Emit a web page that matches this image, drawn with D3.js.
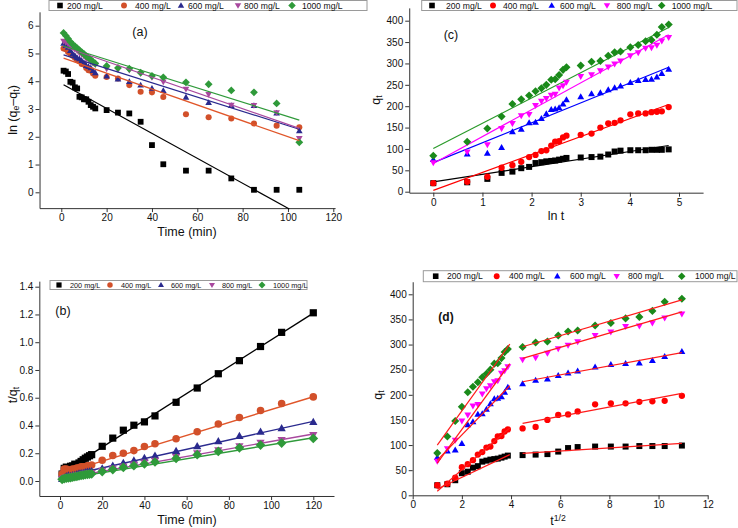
<!doctype html>
<html>
  <head>
    <meta charset="utf-8">
    <title>Adsorption kinetics</title>
    <style>
      body { margin: 0; background: #fff; }
      svg text { font-family: "Liberation Sans", Arial, sans-serif; fill: #111; }
      .axis path, .axis line { stroke: #333; }
      .axis text { font-size: 10px; fill: #111; }
    </style>
    <script src="https://cdnjs.cloudflare.com/ajax/libs/d3/7.8.5/d3.min.js"></script>
  </head>
  <body>
    <div id="chart"></div>
    <script>
      // ---- data ----
      const seriesNames = ["200 mg/L", "400 mg/L", "600 mg/L", "800 mg/L", "1000 mg/L"];

      const timeMin = [1,2,3,4,5,6,7,8,9,10,11,12,13,14,15,20,25,30,35,40,45,55,65,75,85,95,105,120];
      const lnT = [0,0.69,1.10,1.39,1.61,1.79,1.95,2.08,2.20,2.30,2.40,2.48,2.56,2.64,2.71,3.00,3.22,3.40,3.56,3.69,3.81,4.01,4.17,4.32,4.44,4.55,4.65,4.79];
      const sqrtT = [1,1.41,1.73,2,2.24,2.45,2.65,2.83,3,3.16,3.32,3.46,3.61,3.74,3.87,4.47,5,5.48,5.92,6.32,6.71,7.42,8.06,8.66,9.22,9.75,10.25,10.95];

      // q_t (panels c and d)
      const qt200  = [20,22,30,44,47,55,58,67,69,71,72,73,75,77,79,80,81,82,87,94,96,97,97,97,98,98,98,99];
      const qt400  = [20,23,35,56,62,70,81,86,95,97,108,117,118,127,131,133,136,150,160,161,167,181,183,183,186,187,188,198];
      const qt600  = [75,88,90,103,140,146,161,162,171,182,192,193,196,205,215,222,229,231,238,243,247,255,260,262,263,268,276,286];
      const qt800  = [68,93,110,148,160,178,181,202,212,218,226,228,243,248,256,270,274,283,292,299,306,318,325,336,337,343,353,361];
      const qt1000 = [84,117,148,176,205,216,225,235,242,250,262,263,273,285,291,295,304,306,318,326,328,338,343,352,355,367,385,391];

      // panel a: ln(qe - qt)
      const timeA = [1,2,3,4,5,6,7,8,9,10,11,12,13,14,15,20,25,30,35,40,45,55,65,75,85,95,105];
      const lnA200  = [4.38,4.35,4.26,3.98,3.95,3.78,3.74,3.44,3.42,3.35,3.35,3.26,3.14,3.08,3.02,2.96,2.87,2.84,2.54,1.70,1.01,0.78,0.78,0.50,0.09,0.09,0.09];
      const lnA400  = [5.18,5.15,5.05,5.00,4.92,4.85,4.76,4.72,4.62,4.60,4.48,4.40,4.38,4.28,4.20,4.15,4.10,3.86,3.62,3.60,3.43,2.81,2.70,2.66,2.48,2.40,2.34];
      const lnA600  = [5.36,5.28,5.22,5.10,4.98,4.92,4.84,4.80,4.74,4.66,4.56,4.52,4.48,4.38,4.30,4.18,4.07,3.98,3.86,3.74,3.66,3.42,3.23,3.12,3.12,2.85,2.21];
      const lnA800  = [5.45,5.40,5.35,5.28,5.22,5.15,5.10,5.02,4.96,4.90,4.82,4.78,4.70,4.65,4.60,4.45,4.42,4.40,4.28,4.14,3.98,3.72,3.53,3.14,3.13,2.87,1.94];
      const lnA1000 = [5.74,5.64,5.53,5.42,5.33,5.26,5.19,5.12,5.05,4.98,4.90,4.85,4.78,4.70,4.64,4.55,4.48,4.45,4.31,4.19,4.14,3.96,3.89,3.67,3.60,3.20,1.80];

      // panel b: t/qt
      const tq200  = [0.050,0.091,0.100,0.091,0.106,0.109,0.121,0.119,0.130,0.141,0.153,0.164,0.173,0.182,0.190,0.250,0.309,0.366,0.402,0.426,0.469,0.567,0.670,0.773,0.867,0.969,1.071,1.212];
      const tq400  = [0.050,0.087,0.086,0.071,0.081,0.086,0.086,0.093,0.095,0.103,0.102,0.103,0.110,0.110,0.115,0.150,0.184,0.200,0.219,0.248,0.269,0.304,0.355,0.410,0.457,0.508,0.559,0.606];
      const tq600  = [0.013,0.023,0.033,0.039,0.036,0.041,0.043,0.049,0.053,0.055,0.057,0.062,0.066,0.068,0.070,0.090,0.109,0.130,0.147,0.165,0.182,0.216,0.250,0.286,0.323,0.354,0.380,0.425];
      const tq800  = [0.015,0.022,0.027,0.027,0.031,0.034,0.039,0.040,0.042,0.046,0.049,0.053,0.053,0.056,0.059,0.074,0.091,0.106,0.120,0.134,0.147,0.173,0.200,0.223,0.252,0.277,0.297,0.332];
      const tq1000 = [0.012,0.017,0.020,0.023,0.024,0.028,0.031,0.034,0.037,0.040,0.042,0.046,0.048,0.049,0.052,0.068,0.082,0.098,0.110,0.123,0.137,0.163,0.190,0.213,0.239,0.259,0.273,0.307];

      // fitted lines [x1, y1, x2, y2]
      const fitA = [[1,3.87,100.6,-0.6],[1,4.83,105,1.86],[1,4.95,105,2.27],[1,5.25,105,2.30],[1,5.27,105,2.60]];
      const fitB = [[1,0.060,120,1.21],[1,0.055,120,0.607],[1,0.031,120,0.43],[1,0.018,120,0.339],[1,0.012,120,0.312]];
      const fitC = [[0,23,4.79,108],[0,3,4.79,204],[0,68,4.79,291],[0,66,4.79,367],[0,101,4.79,384]];
      const fitD1 = [[1,12.5,3.95,81],[1,8,3.95,134],[1,70,3.95,218],[1,64,3.95,262],[1,100,3.95,301]];
      const fitD2 = [[4.47,83.5,10.95,103.5],[4.47,143,10.95,203],[4.47,226,10.95,284],[4.47,272.6,10.95,365],[4.47,295.7,10.95,389]];

      const shapes = ["square", "circle", "up", "down", "diamond"];
      const coloursAB = ["#000000", "#d2502a", "#2a2a8e", "#a8489e", "#2f9a3a"];
      const coloursCD = ["#000000", "#ff0000", "#0000ff", "#ff00ff", "#1a8a1a"];

      // ---- drawing ----
      const svg = d3.select("#chart").append("svg")
        .attr("width", 738).attr("height", 528);
      svg.append("rect").attr("width", 738).attr("height", 528).attr("fill", "#fff");

      // linear scale anchored at two tick positions, with a given domain
      function lin(v1, p1, v2, p2, d0, d1) {
        const k = (p2 - p1) / (v2 - v1);
        return d3.scaleLinear().domain([d0, d1]).range([p1 + (d0 - v1) * k, p1 + (d1 - v1) * k]);
      }

      function markerPath(kind, s) {
        switch (kind) {
          case "square": return `M${-s},${-s}H${s}V${s}H${-s}Z`;
          case "circle": return d3.symbol(d3.symbolCircle, Math.PI * s * s * 1.1)();
          case "up": return `M0,${-s * 1.2}L${s * 1.15},${s * 0.8}L${-s * 1.15},${s * 0.8}Z`;
          case "down": return `M0,${s * 1.2}L${s * 1.15},${-s * 0.8}L${-s * 1.15},${-s * 0.8}Z`;
          case "diamond": return `M0,${-s * 1.35}L${s * 1.35},0L0,${s * 1.35}L${-s * 1.35},0Z`;
        }
      }

      function drawAxes(x, y, xMajor, xMinor, yMajor, yMinor, xFmt, yFmt) {
        const y0 = y.range()[0], x0 = x.range()[0];
        const gx = svg.append("g").attr("class", "axis").attr("transform", `translate(0,${y0})`);
        gx.call(d3.axisBottom(x).tickValues(xMinor).tickSize(2).tickFormat(""))
          .select(".domain").remove();
        gx.call(d3.axisBottom(x).tickValues(xMajor).tickSize(4).tickSizeOuter(0).tickPadding(2).tickFormat(xFmt));
        const gy = svg.append("g").attr("class", "axis").attr("transform", `translate(${x0},0)`);
        gy.call(d3.axisLeft(y).tickValues(yMinor).tickSize(2).tickFormat(""))
          .select(".domain").remove();
        gy.call(d3.axisLeft(y).tickValues(yMajor).tickSize(4).tickSizeOuter(0).tickPadding(2).tickFormat(yFmt));
      }

      function drawPoints(x, y, xs, ys, kind, colour, s) {
        svg.append("g").selectAll("path").data(ys).join("path")
          .attr("d", markerPath(kind, s))
          .attr("transform", (d, i) => `translate(${x(xs[i])},${y(d)})`)
          .attr("fill", colour);
      }

      function drawFit(x, y, f, colour, w) {
        svg.append("line")
          .attr("x1", x(f[0])).attr("y1", y(f[1]))
          .attr("x2", x(f[2])).attr("y2", y(f[3]))
          .attr("stroke", colour).attr("stroke-width", w || 1.2);
      }

      function legend(x0, x1, y0, y1, marks, texts, fs, ms, colours) {
        svg.append("rect").attr("x", x0).attr("y", y0)
          .attr("width", x1 - x0).attr("height", y1 - y0)
          .attr("fill", "#fff").attr("stroke", "#9a9a9a").attr("stroke-width", 1);
        const cy = (y0 + y1) / 2;
        seriesNames.forEach((name, i) => {
          svg.append("path").attr("d", markerPath(shapes[i], ms))
            .attr("transform", `translate(${marks[i]},${cy})`).attr("fill", colours[i]);
          svg.append("text").attr("x", texts[i]).attr("y", cy + fs * 0.36)
            .attr("font-size", fs).text(name);
        });
      }

      function label(xp, yp, parts, opts) {
        const t = svg.append("text").attr("font-size", opts.size || 12.5)
          .attr("text-anchor", "middle");
        if (opts.rotate) t.attr("transform", `translate(${xp},${yp}) rotate(-90)`);
        else t.attr("x", xp).attr("y", yp);
        if (opts.bold) t.attr("font-weight", "bold");
        parts.forEach(p => {
          const ts = t.append("tspan").text(p[0]);
          if (p[1] === "sub") ts.attr("font-size", "70%").attr("baseline-shift", "-25%");
          if (p[1] === "sup") ts.attr("font-size", "70%").attr("baseline-shift", "45%");
        });
        return t;
      }

      // ---- panel (a) ----
      const xA = lin(0, 61.3, 120, 333.3, -9.6, 120.8);
      const yA = lin(0, 192.3, 6, 25.7, -0.57, 6.5);
      drawAxes(xA, yA, d3.range(0, 121, 20), d3.range(-10, 121, 10),
        d3.range(0, 7, 1), d3.range(-0.5, 6.51, 0.5), d3.format("d"), d3.format("d"));
      const lnA = [lnA200, lnA400, lnA600, lnA800, lnA1000];
      lnA.forEach((ys, i) => drawPoints(xA, yA, timeA, ys, shapes[i], coloursAB[i], 2.9));
      fitA.forEach((f, i) => drawFit(xA, yA, f, i === 4 ? "#2f9a3a" : (i === 1 ? "#e0562a" : coloursAB[i]), 1.2));
      legend(49, 367, 0.5, 10.5, [60, 124, 181, 238, 292], [67, 135, 188, 244, 302], 8.6, 2.8, coloursAB);
      label(140, 36, [["(a)"]], {size: 12.5});
      label(187, 236, [["Time (min)"]], {});
      label(17, 110, [["ln (q"], ["e", "sub"], ["\u2013q"], ["t", "sub"], [")"]], {rotate: true});

      // ---- panel (b) ----
      const xB = lin(0, 60, 120, 313.3, -9.8, 129.8);
      const yB = lin(0, 481, 1.4, 286.7, -0.108, 1.44);
      drawAxes(xB, yB, d3.range(0, 121, 20), d3.range(-10, 131, 10),
        d3.range(0, 1.41, 0.2), d3.range(-0.1, 1.41, 0.1), d3.format("d"), d3.format(".1f"));
      const tqB = [tq200, tq400, tq600, tq800, tq1000];
      fitB.forEach((f, i) => drawFit(xB, yB, f, i === 1 ? "#e0562a" : coloursAB[i], 1.4));
      tqB.forEach((ys, i) => drawPoints(xB, yB, timeMin, ys, shapes[i], coloursAB[i], 3.6));
      legend(50, 307, 280.5, 289.5, [59, 110, 161, 212, 262], [70, 121, 171, 222, 273], 7.3, 2.6, coloursAB);
      label(63, 315, [["(b)"]], {size: 12.5});
      label(187, 523.5, [["Time (min)"]], {});
      label(17, 395, [["t/q"], ["t", "sub"]], {rotate: true});

      // ---- panel (c) ----
      const xC = lin(0, 433.3, 5, 679, -0.49, 5.49);
      const yC = lin(0, 191.7, 400, 20.7, -2.3, 430);
      drawAxes(xC, yC, d3.range(0, 5.01, 1), d3.range(-0.5, 5.51, 0.5),
        d3.range(0, 401, 50), d3.range(0, 426, 25), d3.format("d"), d3.format("d"));
      const qtAll = [qt200, qt400, qt600, qt800, qt1000];
      fitC.forEach((f, i) => drawFit(xC, yC, f, i === 4 ? "#2a9a2a" : coloursCD[i], 1.2));
      qtAll.forEach((ys, i) => drawPoints(xC, yC, lnT, ys, shapes[i], coloursCD[i], 3));
      legend(421.7, 737, 0.5, 10.5, [432, 493, 551.7, 607, 661.7], [446, 503, 560, 616.7, 671.7], 8.6, 2.8, coloursCD);
      label(451, 39, [["(c)"]], {size: 12.5});
      label(556, 220, [["ln t"]], {});
      label(380, 100, [["q"], ["t", "sub"]], {rotate: true});

      // ---- panel (d) ----
      const xD = lin(0, 412.7, 12, 707.7, 0, 12);
      const yD = lin(0, 495.3, 400, 294.3, 0, 425);
      drawAxes(xD, yD, d3.range(0, 13, 2), d3.range(0, 13, 1),
        d3.range(0, 401, 50), d3.range(0, 426, 25), d3.format("d"), d3.format("d"));
      qtAll.forEach((ys, i) => drawPoints(xD, yD, sqrtT, ys, shapes[i], coloursCD[i], 3));
      fitD1.forEach(f => drawFit(xD, yD, f, "#ff1a1a", 1.2));
      fitD2.forEach(f => drawFit(xD, yD, f, "#ff1a1a", 1.2));
      legend(423.3, 737, 270.7, 281.7, [435.7, 496.7, 557.3, 616.7, 681.7], [447, 509, 570, 628, 695], 8.6, 2.8, coloursCD);
      label(446, 321, [["(d)"]], {size: 12, bold: true});
      label(558, 525, [["t"], ["1/2", "sup"]], {});
      label(382, 395, [["q"], ["t", "sub"]], {rotate: true});
    </script>
  </body>
</html>
